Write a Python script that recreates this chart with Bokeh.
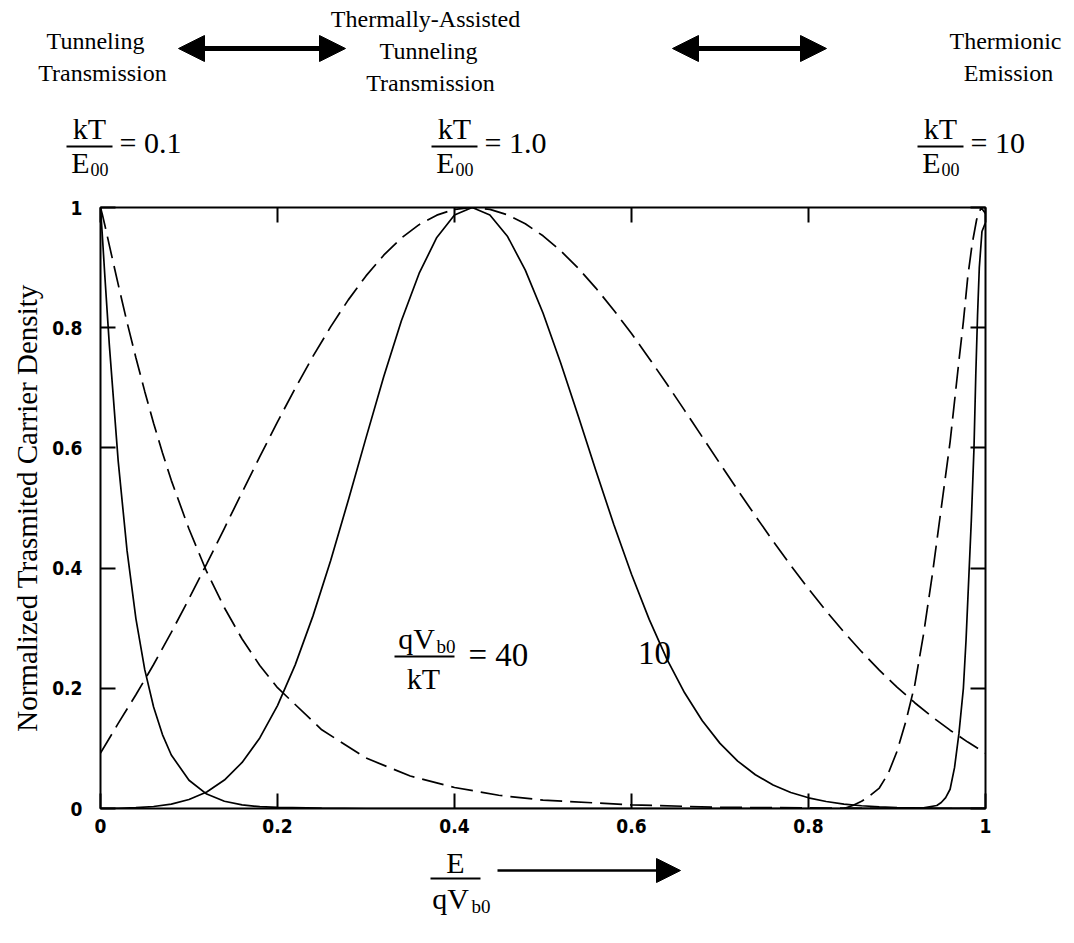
from bokeh.plotting import figure
from bokeh.layouts import column
from bokeh.models import Label, Arrow, NormalHead, LinearAxis, FixedTicker, Range1d
from bokeh.embed import file_html
from bokeh.resources import INLINE

# ---- normalized transmitted carrier density vs E / qVb0 ----
# kT/E00 = 0.1 (tunneling regime)
x_tun = [0.0, 0.002, 0.005, 0.01, 0.02, 0.03, 0.04, 0.05, 0.06, 0.07, 0.08, 0.10,
         0.12, 0.14, 0.16, 0.18, 0.20, 0.25, 0.30, 0.35, 0.40, 0.45, 0.50, 0.60,
         0.70, 0.80, 0.90, 1.0]
tun_40 = [1.0, 0.955, 0.884, 0.771, 0.578, 0.429, 0.316, 0.231, 0.169, 0.123, 0.089, 0.047,
          0.024, 0.012, 0.006, 0.003, 0.002, 0.0005, 0.0, 0.0, 0.0, 0.0, 0.0, 0.0,
          0.0, 0.0, 0.0, 0.0]
tun_10 = [1.0, 0.989, 0.970, 0.937, 0.872, 0.809, 0.750, 0.694, 0.641, 0.592, 0.546, 0.465,
          0.394, 0.334, 0.282, 0.238, 0.201, 0.131, 0.084, 0.054, 0.035, 0.022, 0.014, 0.006,
          0.002, 0.001, 0.0, 0.0]

# kT/E00 = 1.0 (thermally-assisted tunneling)
x_mid = [0.00, 0.02, 0.04, 0.06, 0.08, 0.10, 0.12, 0.14, 0.16, 0.18, 0.20, 0.22, 0.24,
         0.26, 0.28, 0.30, 0.32, 0.34, 0.36, 0.38, 0.40, 0.42, 0.44, 0.46, 0.48, 0.50,
         0.52, 0.54, 0.56, 0.58, 0.60, 0.62, 0.64, 0.66, 0.68, 0.70, 0.72, 0.74, 0.76,
         0.78, 0.80, 0.82, 0.84, 0.86, 0.88, 0.90, 0.92, 0.94, 0.96, 0.98, 1.00]
mid_40 = [0.0001, 0.0004, 0.0013, 0.0033, 0.0074, 0.0149, 0.0275, 0.0473, 0.0766, 0.1174,
          0.1713, 0.2390, 0.3201, 0.4124, 0.5129, 0.6167, 0.7184, 0.8116, 0.8903, 0.9502,
          0.9875, 1.0, 0.9875, 0.9517, 0.8958, 0.8245, 0.7414, 0.6521, 0.5612, 0.4725,
          0.3898, 0.3146, 0.2487, 0.1925, 0.1460, 0.1084, 0.0789, 0.0562, 0.0392, 0.0267,
          0.0178, 0.0117, 0.0074, 0.0046, 0.0028, 0.0017, 0.0010, 0.0005, 0.0003, 0.0002,
          0.0001]
mid_10 = [0.0922, 0.1416, 0.1892, 0.2396, 0.2930, 0.3491, 0.4071, 0.4663, 0.5261, 0.5854,
          0.6433, 0.6992, 0.7522, 0.8014, 0.8463, 0.8862, 0.9206, 0.9492, 0.9714, 0.9873,
          0.9969, 1.0, 0.9969, 0.9877, 0.9729, 0.9529, 0.9279, 0.8986, 0.8655, 0.8291,
          0.7902, 0.7489, 0.7062, 0.6624, 0.6182, 0.5738, 0.5299, 0.4869, 0.4449, 0.4044,
          0.3655, 0.3285, 0.2936, 0.2609, 0.2303, 0.2020, 0.1760, 0.1521, 0.1303, 0.1105,
          0.0922]

# kT/E00 = 10 (thermionic emission)
x_th40 = [0.85, 0.90, 0.93, 0.945, 0.95, 0.955, 0.96, 0.965, 0.97, 0.975, 0.978, 0.981,
          0.984, 0.987, 0.989, 0.991, 0.993, 0.996, 1.0]
th_40 = [0.0, 0.0, 0.001, 0.005, 0.010, 0.018, 0.032, 0.068, 0.125, 0.20, 0.28, 0.38,
         0.48, 0.60, 0.72, 0.82, 0.90, 0.96, 0.975]
x_th10 = [0.84, 0.85, 0.86, 0.87, 0.88, 0.89, 0.90, 0.91, 0.92, 0.93, 0.94, 0.95, 0.96,
          0.97, 0.975, 0.98, 0.985, 0.99, 0.995, 1.0]
th_10 = [0.0, 0.005, 0.012, 0.022, 0.034, 0.058, 0.095, 0.145, 0.205, 0.29, 0.39, 0.50,
         0.61, 0.745, 0.81, 0.885, 0.94, 0.98, 1.0, 0.99]

x_ticks = [0, 0.2, 0.4, 0.6, 0.8, 1]
x_tick_labels = ["0", "0.2", "0.4", "0.6", "0.8", "1"]
y_ticks = [0, 0.2, 0.4, 0.6, 0.8, 1]
y_tick_labels = ["0", "0.2", "0.4", "0.6", "0.8", "1"]

# ---- page geometry (pixels) ----
W = 1074
HEAD_H = 197                      # caption strip above the plot
LB, RB, TB, BB = 100, 89, 10, 38  # borders of the plot panel
FH = 601                          # plot frame height
MAIN_H = TB + FH + BB
FOOT_H = 943 - HEAD_H - MAIN_H
FOOT_TOP = HEAD_H + MAIN_H
SERIF = "Liberation Serif"
TICK_FONT = "'Liberation Sans Narrow', 'DejaVu Sans Condensed', 'Liberation Sans'"


def blank_panel(height, top):
    # a panel whose data coordinates are page pixels (y grows downward)
    f = figure(width=W, height=height, x_range=Range1d(0, W), y_range=Range1d(top + height, top),
               x_axis_type=None, y_axis_type=None, output_backend="svg", toolbar_location=None,
               min_border_left=0, min_border_right=0, min_border_top=0, min_border_bottom=0)
    f.frame_align = False
    f.outline_line_color = None
    f.xgrid.grid_line_color = None
    f.ygrid.grid_line_color = None
    f.background_fill_color = "white"
    f.border_fill_color = "white"
    return f


def text(f, s, px, py, size, align="center", style="normal"):
    f.add_layout(Label(x=px, y=py, text=s, text_font=SERIF, text_font_size=f"{size}px",
                       text_font_style=style, text_align=align, text_baseline="middle",
                       text_color="black"))


def bar(f, px0, px1, py, width=2):
    f.add_layout(Arrow(start=None, end=None, x_start=px0, y_start=py, x_end=px1, y_end=py,
                       line_width=width, line_color="black"))


# ---- caption strip ----
head = blank_panel(HEAD_H, 0)


def double_arrow(f, px0, px1, py):
    hd = dict(size=26, fill_color="black", line_color="black", line_width=1)
    f.add_layout(Arrow(start=NormalHead(**hd), end=NormalHead(**hd),
                       x_start=px0, y_start=py, x_end=px1, y_end=py,
                       line_width=5, line_color="black"))


CAP = 24
text(head, "Tunneling", 95, 40, CAP)
text(head, "Transmission", 102, 72, CAP)
text(head, "Thermally-Assisted", 425, 18, CAP)
text(head, "Tunneling", 428, 50, CAP)
text(head, "Transmission", 430, 82, CAP)
text(head, "Thermionic", 1005, 40, CAP)
text(head, "Emission", 1008, 72, CAP)
double_arrow(head, 178, 345, 48)
double_arrow(head, 672, 826, 48)


def kt_over_e00(cx, value_text):
    text(head, "kT", cx, 128, 30)
    bar(head, cx - 23, cx + 23, 146)
    text(head, "E", cx - 9, 162, 30)
    text(head, "00", cx + 1, 169, 18, align="left")
    text(head, value_text, cx + 30, 142, 30, align="left")


kt_over_e00(89, "= 0.1")
kt_over_e00(454, "= 1.0")
kt_over_e00(940, "= 10")

# ---- main plot ----
p = figure(width=W, height=MAIN_H, x_range=Range1d(0, 1), y_range=Range1d(0, 1),
           output_backend="svg", toolbar_location=None,
           min_border_left=LB, min_border_right=RB, min_border_top=TB, min_border_bottom=BB)
p.frame_align = False
p.background_fill_color = "white"
p.border_fill_color = "white"
p.outline_line_color = "black"
p.outline_line_width = 2
p.xgrid.grid_line_color = None
p.ygrid.grid_line_color = None

solid = dict(line_color="black", line_width=1.7)
dashed = dict(line_color="black", line_width=1.7, line_dash="22 8")

p.line(x_tun, tun_40, **solid)
p.line(x_tun, tun_10, **dashed)
p.line(x_mid, mid_40, **solid)
p.line(x_mid, mid_10, **dashed)
p.line(x_th40, th_40, **solid)
p.line(x_th10, th_10, **dashed)


def style_axis(ax, ticks, labels, show_labels):
    ax.ticker = FixedTicker(ticks=ticks)
    ax.major_label_overrides = dict(zip(ticks, labels))
    ax.major_tick_in = 15
    ax.major_tick_out = 0
    ax.major_tick_line_width = 2
    ax.major_tick_line_color = "black"
    ax.minor_tick_line_color = None
    ax.axis_line_color = None
    ax.major_label_text_font = TICK_FONT
    ax.major_label_text_font_style = "bold"
    if show_labels:
        ax.major_label_text_font_size = "19px"
        ax.major_label_text_color = "black"
    else:
        ax.major_label_text_font_size = "0px"
        ax.major_label_text_color = None
        ax.major_label_standoff = 0


style_axis(p.xaxis[0], x_ticks, x_tick_labels, True)
style_axis(p.yaxis[0], y_ticks, y_tick_labels, True)
p.xaxis[0].major_label_standoff = 10
p.yaxis[0].major_label_standoff = 18
p.yaxis[0].axis_label = "Normalized Trasmited Carrier Density"
p.yaxis[0].axis_label_text_font = SERIF
p.yaxis[0].axis_label_text_font_size = "29px"
p.yaxis[0].axis_label_text_font_style = "normal"
p.yaxis[0].axis_label_text_color = "black"
p.yaxis[0].axis_label_standoff = 6

top_ax = LinearAxis()
style_axis(top_ax, x_ticks, x_tick_labels, False)
p.add_layout(top_ax, "above")
right_ax = LinearAxis()
style_axis(right_ax, y_ticks, y_tick_labels, False)
p.add_layout(right_ax, "right")

# qVb0/kT annotation inside the frame (page-pixel positions converted to data units)
FW = W - LB - RB
FRAME_TOP = HEAD_H + TB


def X(px):
    return (px - LB) / FW


def Y(py):
    return (FRAME_TOP + FH - py) / FH


def ptext(s, px, py, size, align="center"):
    text(p, s, X(px), Y(py), size, align)


ptext("qV", 416, 638, 30)
ptext("b0", 436, 646, 19, align="left")
p.add_layout(Arrow(start=None, end=None, x_start=X(394), y_start=Y(656), x_end=X(454),
                   y_end=Y(656), line_width=2, line_color="black"))
ptext("kT", 423, 678, 30)
ptext("= 40", 468, 654, 33, align="left")
ptext("10", 654, 652, 33)

# ---- abscissa label strip ----
foot = blank_panel(FOOT_H, FOOT_TOP)
text(foot, "E", 455, 862, 30)
bar(foot, 430, 480, 878)
text(foot, "qV", 450, 898, 30)
text(foot, "b0", 471, 906, 19, align="left")
foot.add_layout(Arrow(start=None, end=NormalHead(size=24, fill_color="black", line_color="black"),
                      x_start=497, y_start=870, x_end=680, y_end=870,
                      line_width=2.5, line_color="black"))

layout = column(head, p, foot, spacing=0)
open("out.html", "w").write(file_html(layout, INLINE))
